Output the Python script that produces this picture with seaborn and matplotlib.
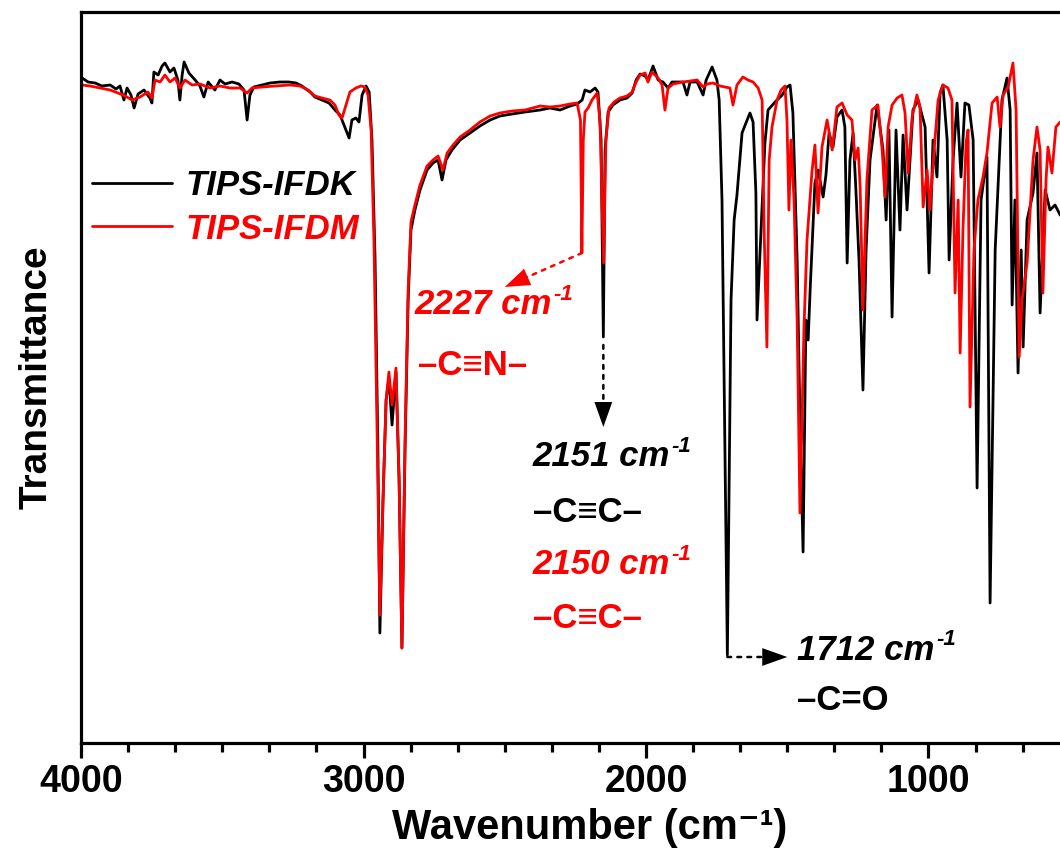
import numpy as np
import pandas as pd
import seaborn as sns
import matplotlib.pyplot as plt
from matplotlib.ticker import AutoMinorLocator, NullLocator

sns.set_style('ticks')
plt.rcParams['font.family'] = ['Liberation Sans', 'DejaVu Sans']
plt.rcParams['text.color'] = 'black'
plt.rcParams['axes.labelcolor'] = 'black'
plt.rcParams['axes.edgecolor'] = 'black'
plt.rcParams['xtick.color'] = 'black'
plt.rcParams['ytick.color'] = 'black'

# TIPS-IFDK spectrum (wavenumber cm-1, transmittance a.u.)
ifdk_wn = [3996, 3975, 3950, 3926, 3897, 3876, 3862, 3848, 3837, 3823, 3812, 3798, 3777, 3756,
           3749, 3742, 3727, 3713, 3703, 3685, 3671, 3657, 3650, 3642, 3635, 3618, 3596, 3579,
           3565, 3550, 3526, 3508, 3490, 3465, 3441, 3423, 3412, 3402, 3388, 3359, 3331, 3296,
           3264, 3239, 3218, 3189, 3172, 3147, 3122, 3101, 3083, 3069, 3051, 3041, 3027, 3016,
           3005, 2991, 2980, 2970, 2959, 2949, 2942, 2931, 2920, 2910, 2899, 2885, 2874, 2864,
           2853, 2842, 2832, 2818, 2800, 2775, 2754, 2736, 2722, 2708, 2687, 2658, 2623, 2588,
           2552, 2517, 2474, 2428, 2375, 2340, 2304, 2269, 2244, 2226, 2216, 2198, 2180, 2170,
           2159, 2151, 2145, 2134, 2117, 2092, 2067, 2049, 2035, 2021, 2003, 1993, 1975, 1957,
           1940, 1922, 1908, 1869, 1855, 1844, 1819, 1798, 1787, 1766, 1749, 1741, 1731, 1712,
           1699, 1688, 1678, 1660, 1649, 1632, 1621, 1611, 1607, 1596, 1579, 1568, 1543, 1518,
           1501, 1490, 1480, 1465, 1455, 1444, 1434, 1426, 1419, 1402, 1391, 1373, 1363, 1352,
           1338, 1324, 1306, 1296, 1288, 1278, 1267, 1257, 1246, 1232, 1221, 1207, 1182, 1161,
           1150, 1140, 1129, 1115, 1101, 1090, 1076, 1055, 1037, 1012, 998, 984, 970, 959,
           949, 934, 927, 913, 899, 885, 871, 857, 842, 828, 814, 803, 793, 782,
           764, 740, 722, 711, 704, 694, 683, 672, 665, 651, 630, 616, 605, 587,
           570, 552, 534, 510]
ifdk_t = [66.5, 66.1, 66.0, 65.7, 65.8, 65.4, 65.7, 64.3, 65.5, 64.8, 63.5, 64.9, 65.3, 64.5,
          64.0, 67.1, 66.8, 67.7, 68.0, 67.1, 67.5, 66.3, 64.3, 66.8, 68.1, 67.0, 66.3, 65.7,
          64.6, 66.1, 65.3, 66.3, 65.9, 66.1, 65.9, 65.3, 62.3, 64.8, 65.6, 65.8, 66.0, 66.1,
          66.1, 66.0, 65.7, 65.1, 64.6, 64.3, 64.0, 63.3, 62.8, 61.8, 60.5, 62.3, 62.5, 62.1,
          64.8, 65.7, 65.1, 60.3, 48.3, 29.3, 11.0, 24.3, 34.3, 36.5, 31.8, 37.1, 26.3, 9.5,
          29.3, 44.3, 51.3, 53.3, 55.3, 57.3, 58.0, 58.3, 56.3, 58.3, 59.3, 60.3, 61.0, 61.7,
          62.3, 62.7, 62.9, 63.1, 63.3, 63.5, 63.3, 63.7, 63.9, 64.3, 65.3, 65.1, 65.5, 65.1,
          60.3, 40.6, 59.3, 63.1, 63.8, 64.3, 64.5, 65.0, 66.3, 66.9, 66.7, 66.3, 67.7, 66.3,
          66.1, 65.5, 66.1, 66.1, 64.8, 66.1, 66.1, 64.8, 66.3, 67.6, 66.3, 64.3, 54.3, 8.8,
          44.3, 52.3, 54.8, 61.0, 61.8, 63.0, 62.1, 55.0, 42.3, 49.3, 60.0, 63.3, 64.1, 64.8,
          65.6, 65.8, 63.0, 48.3, 32.3, 19.1, 42.3, 40.3, 45.3, 56.0, 57.3, 54.6, 56.8, 61.0,
          59.6, 62.6, 63.3, 61.6, 48.0, 58.3, 61.0, 55.3, 48.3, 35.3, 49.3, 58.3, 63.8, 59.3,
          52.3, 61.3, 42.6, 61.3, 51.3, 60.8, 53.3, 63.3, 64.3, 61.6, 47.0, 60.3, 56.6, 65.0,
          65.8, 60.3, 48.3, 58.3, 64.0, 56.6, 64.0, 63.8, 60.3, 25.5, 54.3, 56.6, 58.6, 14.0,
          49.3, 64.3, 66.5, 63.3, 43.8, 54.3, 37.0, 49.3, 39.6, 52.3, 55.0, 59.0, 43.0, 55.3,
          53.3, 53.8, 52.8, 52.3]

# TIPS-IFDM spectrum
ifdm_wn = [3996, 3968, 3933, 3897, 3869, 3844, 3819, 3791, 3763, 3749, 3738, 3720, 3703, 3685,
           3667, 3650, 3632, 3607, 3579, 3543, 3508, 3473, 3437, 3412, 3395, 3359, 3313, 3260,
           3225, 3196, 3172, 3147, 3119, 3101, 3087, 3076, 3062, 3048, 3027, 3009, 2995, 2984,
           2973, 2963, 2952, 2942, 2931, 2920, 2910, 2899, 2885, 2874, 2864, 2853, 2842, 2832,
           2818, 2800, 2775, 2754, 2736, 2719, 2704, 2683, 2658, 2623, 2588, 2552, 2517, 2474,
           2428, 2375, 2340, 2304, 2269, 2244, 2232, 2227, 2222, 2216, 2205, 2191, 2173, 2163,
           2150, 2142, 2131, 2113, 2092, 2067, 2049, 2035, 2021, 2003, 1993, 1979, 1957, 1943,
           1933, 1922, 1904, 1869, 1819, 1798, 1784, 1763, 1738, 1703, 1692, 1678, 1657, 1639,
           1621, 1603, 1589, 1582, 1572, 1564, 1554, 1536, 1522, 1508, 1501, 1494, 1487, 1476,
           1465, 1455, 1441, 1430, 1412, 1402, 1391, 1377, 1359, 1341, 1324, 1306, 1288, 1271,
           1260, 1249, 1242, 1232, 1218, 1200, 1179, 1164, 1154, 1143, 1129, 1111, 1094, 1083,
           1072, 1058, 1041, 1030, 1019, 1005, 995, 980, 966, 949, 931, 917, 906, 895,
           888, 878, 867, 860, 853, 839, 825, 807, 793, 775, 757, 747, 736, 718,
           701, 690, 679, 669, 651, 630, 616, 605, 595, 584, 577, 563, 549, 534,
           510]
ifdm_t = [65.8, 65.7, 65.5, 65.3, 65.0, 64.7, 64.3, 64.6, 65.1, 64.5, 66.3, 66.1, 66.8, 66.1,
          66.5, 65.5, 66.3, 65.8, 65.9, 65.5, 65.7, 65.5, 65.5, 65.0, 65.5, 65.6, 65.7, 65.8,
          65.7, 65.3, 64.7, 64.5, 64.3, 63.8, 62.8, 62.5, 63.8, 65.1, 65.5, 65.7, 65.6, 64.8,
          61.3, 50.3, 31.3, 12.8, 24.3, 34.3, 37.1, 33.8, 37.5, 26.3, 9.5, 30.3, 45.3, 52.1,
          53.8, 55.8, 57.7, 58.3, 58.7, 57.3, 59.0, 59.8, 60.6, 61.3, 62.1, 62.7, 63.0, 63.2,
          63.3, 63.7, 63.6, 63.7, 63.9, 64.0, 62.3, 49.0, 60.3, 63.1, 63.5, 64.3, 65.0, 62.3,
          48.0, 60.3, 63.5, 64.1, 64.5, 64.7, 65.1, 66.1, 66.8, 67.0, 66.1, 67.1, 66.5, 65.8,
          63.3, 65.5, 65.9, 66.1, 66.3, 65.6, 65.9, 66.0, 65.7, 65.5, 63.8, 65.8, 66.6, 66.3,
          66.1, 65.5, 64.3, 51.3, 39.6, 58.3, 61.6, 64.3, 65.3, 65.7, 62.3, 53.3, 60.3, 54.3,
          42.3, 23.0, 41.3, 50.3, 57.3, 59.8, 53.0, 59.6, 62.3, 59.3, 63.6, 64.0, 62.8, 62.3,
          58.3, 59.5, 55.6, 43.3, 56.3, 63.3, 63.8, 59.3, 54.6, 61.6, 63.8, 64.5, 64.8, 63.0,
          57.0, 62.6, 64.8, 63.6, 53.6, 57.3, 53.3, 59.3, 64.3, 65.8, 65.5, 64.3, 45.0, 54.3,
          39.0, 51.3, 60.0, 61.3, 33.6, 49.3, 54.3, 56.6, 59.0, 64.0, 64.6, 61.6, 64.8, 65.6,
          68.0, 63.3, 38.6, 44.3, 48.0, 58.3, 61.6, 59.3, 45.0, 56.3, 59.6, 57.0, 61.6, 62.1,
          62.3]

samples = ['TIPS-IFDK', 'TIPS-IFDM']
colors = {'TIPS-IFDK': 'black', 'TIPS-IFDM': 'red'}

df = pd.concat([
    pd.DataFrame({'wn': ifdk_wn, 't': ifdk_t, 'sample': 'TIPS-IFDK'}),
    pd.DataFrame({'wn': ifdm_wn, 't': ifdm_t, 'sample': 'TIPS-IFDM'}),
])

fig = plt.figure(figsize=(10.6, 8.61), dpi=100)
# the frame runs past the right edge of the picture (cropped like the original)
ax = fig.add_axes([81 / 1060, 118 / 861, 1017 / 1060, 731 / 861])

sns.lineplot(data=df, x='wn', y='t', hue='sample', hue_order=samples, palette=colors,
             estimator=None, sort=False, linewidth=2.0, ax=ax)

ax.set_xlim(4000, 400)
ax.set_ylim(0, 73.1)
ax.set_xticks([4000, 3000, 2000, 1000])
ax.xaxis.set_minor_locator(AutoMinorLocator(6))
ax.yaxis.set_major_locator(NullLocator())
ax.tick_params(axis='x', which='major', direction='out', length=11, width=2.3, pad=4,
               labelsize=27)
ax.tick_params(axis='x', which='minor', direction='out', length=6.5, width=2.3)
for lab in ax.get_xticklabels():
    lab.set_fontweight('bold')
for sp in ax.spines.values():
    sp.set_linewidth(2.3)
    sp.set_visible(True)

ax.set_xlabel('Wavenumber (cm⁻¹)', fontsize=30, fontweight='bold', labelpad=6)
ax.set_ylabel('Transmittance', fontsize=28, fontweight='bold', labelpad=19)

leg = ax.legend(loc='upper left', bbox_to_anchor=(-0.003, 0.804), frameon=False,
                handlelength=2.3, handletextpad=0.4, labelspacing=0.3, borderaxespad=0,
                prop={'size': 25, 'weight': 'bold', 'style': 'italic'})
for txt, s in zip(leg.get_texts(), samples):
    txt.set_color(colors[s])
for ln in leg.get_lines():
    ln.set_linewidth(2.0)


def peak_label(x, y, value, color):
    t = ax.text(x, y, f'{value} cm', color=color, fontsize=25, fontweight='bold',
                fontstyle='italic', va='center', ha='left')
    ax.annotate('-1', xy=(1, 1), xycoords=t, xytext=(1, 3), textcoords='offset points',
                color=color, fontsize=16, fontweight='bold', fontstyle='italic',
                va='top', ha='left')


def dotted_arrow(start, end, color):
    ax.annotate('', xy=end, xytext=start,
                arrowprops=dict(arrowstyle='-', color=color, lw=1.8,
                                linestyle=(0, (1.5, 2.5)), shrinkA=0, shrinkB=9))
    ax.annotate('', xy=end, xytext=start,
                arrowprops=dict(arrowstyle='-|>,head_length=0.9,head_width=0.32',
                                color=color, lw=0, mutation_scale=20,
                                shrinkA=0, shrinkB=0))


bond = dict(fontsize=25, fontweight='bold', va='center', ha='left')

peak_label(2818, 43.8, 2227, 'red')
ax.text(2807, 37.7, '–C≡N–', color='red', **bond)
peak_label(2400, 28.6, 2151, 'black')
ax.text(2400, 23.1, '–C≡C–', color='black', **bond)
peak_label(2400, 17.8, 2150, 'red')
ax.text(2400, 12.5, '–C≡C–', color='red', **bond)
peak_label(1465, 9.3, 1712, 'black')
ax.text(1465, 4.3, '–C=O', color='black', **bond)

dotted_arrow((2227, 49.0), (2500, 45.6), 'red')
dotted_arrow((2151, 39.8), (2151, 31.6), 'black')
dotted_arrow((1712, 8.6), (1500, 8.6), 'black')

fig.savefig('out.png', dpi=100)
